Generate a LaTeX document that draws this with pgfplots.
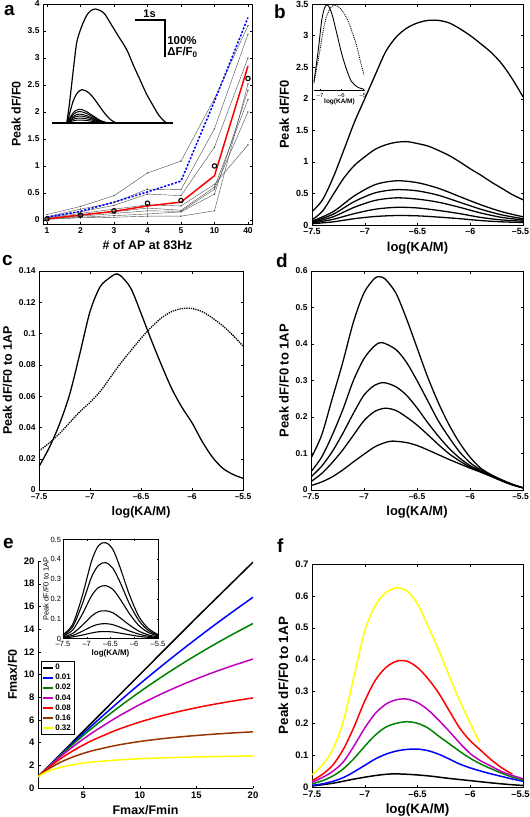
\documentclass[border=0pt]{standalone}
\usepackage{fontspec}
\setmainfont{Liberation Sans}
\usepackage{pgfplots}
\pgfplotsset{compat=1.18}
\newcommand{\fs}[1]{\fontsize{#1}{#1}\selectfont}
\definecolor{mblue}{rgb}{0,0,1}
\definecolor{mgreen}{rgb}{0,0.5,0}
\definecolor{mmag}{rgb}{0.75,0,0.75}
\definecolor{mred}{rgb}{1,0,0}
\definecolor{mbrown}{rgb}{0.6,0.2,0}
\definecolor{myellow}{rgb}{1,1,0}
\pgfplotsset{
  myax/.style={
    scale only axis, anchor=south west,
    tick align=inside, major tick length=2.5bp,
    every tick/.style={black, line width=0.4pt},
    axis line style={line width=0.5pt},
    /pgf/number format/assume math mode=true,
    /pgf/number format/fixed,
    scaled ticks=false,
    tick label style={font=\bfseries\fs{8.5}},
    label style={font=\bfseries\fs{12.5}},
  },
  crv/.style={black, line width=1.3pt, smooth, no marks},
  gl/.style={black!70, line width=0.4pt, mark=*, mark size=0.45pt},
  logx/.style={xmin=-7.5, xmax=-5.5, xtick={-7.5,-7,-6.5,-6,-5.5},
     xticklabels={--7.5,--7,--6.5,--6,--5.5}, xlabel={log(KA/M)}},
  logxr/.style={xmin=-7.5, xmax=-5.5, xtick={-7.5,-7,-6.5,-6,-5.5},
     xticklabels={--7.5,--7,--6.5,--6,\hspace{-5bp}--5.5}, xlabel={log(KA/M)}},
}
\begin{document}
\begin{tikzpicture}
\useasboundingbox (0,-817bp) rectangle (530bp,0);
% ---------------- panel a
\begin{axis}[myax, at={(43bp,-224bp)}, width=209bp, height=220bp,
  xmin=0.88, xmax=7.12, ymin=-0.075, ymax=4,
  xtick={1,2,3,4,5,6,7}, xticklabels={1,2,3,4,5,10,40},
  ytick={0,0.5,1,1.5,2,2.5,3,3.5,4},
  xlabel={\# of AP at 83Hz}, ylabel={Peak dF/F0}]
\addplot[gl] coordinates {(1,0.10) (2,0.25) (3,0.45) (4,0.87) (5,1.09) (6,2.25) (7,3.60)};
\addplot[gl] coordinates {(1,0.06) (2,0.20) (3,0.32) (4,0.57) (5,0.56) (6,1.69) (7,3.44)};
\addplot[gl] coordinates {(1,0.05) (2,0.15) (3,0.27) (4,0.48) (5,0.45) (6,1.35) (7,3.00)};
\addplot[gl] coordinates {(1,0.04) (2,0.12) (3,0.20) (4,0.28) (5,0.26) (6,0.66) (7,1.39)};
\addplot[gl] coordinates {(1,0.03) (2,0.10) (3,0.15) (4,0.22) (5,0.18) (6,0.61) (7,2.23)};
\addplot[gl] coordinates {(1,0.02) (2,0.07) (3,0.12) (4,0.17) (5,0.16) (6,0.57) (7,2.00)};
\addplot[gl] coordinates {(1,0.02) (2,0.05) (3,0.08) (4,0.11) (5,0.15) (6,0.48) (7,2.40)};
\addplot[gl] coordinates {(1,0.01) (2,0.04) (3,0.05) (4,0.07) (5,0.07) (6,0.17) (7,2.52)};
\addplot[mblue, line width=1.5pt, dash pattern=on 2.2pt off 1.6pt] coordinates {(1,0.05) (2,0.16) (3,0.33) (4,0.52) (5,0.72) (6,2.2) (7,3.75)};
\addplot[mred, line width=1.5pt] coordinates {(1,0.02) (2,0.09) (3,0.16) (4,0.26) (5,0.33) (6,0.82) (7,2.85)};
\addplot[black, only marks, mark=o, mark size=2.2pt, line width=1.1pt] coordinates {(1,0.02) (2,0.09) (3,0.17) (4,0.31) (5,0.36) (6,1.0) (7,2.62)};
\end{axis}
% inset a (traces)
\begin{axis}[scale only axis, anchor=south west, at={(52bp,-123bp)}, width=121bp, height=114bp,
  xmin=0, xmax=4.03, ymin=0, ymax=3.08, hide axis, clip=false]
\addplot[black, line width=1.2pt] coordinates {(0,0) (4.03,0)};
\addplot[crv, line width=1.2pt] coordinates {(0.49,0) (0.57,0.45) (0.66,1.08) (0.74,1.65) (0.82,2.16) (0.93,2.48) (1.04,2.71) (1.15,2.90) (1.27,3.02) (1.43,3.08) (1.6,3.04) (1.75,2.95) (1.93,2.72) (2.2,2.36) (2.49,1.98) (2.7,1.58) (2.93,1.17) (3.15,0.78) (3.38,0.45) (3.55,0.22) (3.71,0.07) (3.82,0)};
\addplot[crv, line width=1.2pt] coordinates {(0.5,0) (0.6,0.3) (0.7,0.58) (0.8,0.76) (0.9,0.86) (0.99,0.9) (1.1,0.88) (1.25,0.80) (1.4,0.66) (1.55,0.49) (1.7,0.32) (1.85,0.17) (2.0,0.06) (2.15,0)};
\addplot[crv, line width=1.0pt] coordinates {(0.5,0) (0.6,0.15) (0.7,0.27) (0.8,0.34) (0.9,0.37) (1.0,0.36) (1.15,0.31) (1.3,0.23) (1.45,0.15) (1.6,0.074) (1.75,0.026) (1.9,0)};
\addplot[crv, line width=1.0pt] coordinates {(0.5,0) (0.6,0.124) (0.7,0.223) (0.8,0.285) (0.9,0.31) (1.0,0.30) (1.15,0.26) (1.3,0.195) (1.45,0.124) (1.6,0.062) (1.75,0.022) (1.9,0)};
\addplot[crv, line width=1.0pt] coordinates {(0.5,0) (0.6,0.096) (0.7,0.173) (0.8,0.221) (0.9,0.24) (1.0,0.233) (1.15,0.202) (1.3,0.151) (1.45,0.096) (1.6,0.048) (1.75,0.017) (1.9,0)};
\addplot[crv, line width=1.0pt] coordinates {(0.5,0) (0.6,0.076) (0.7,0.137) (0.8,0.175) (0.9,0.19) (1.0,0.184) (1.15,0.16) (1.3,0.12) (1.45,0.076) (1.6,0.038) (1.75,0.013) (1.9,0)};
\addplot[crv, line width=1.0pt] coordinates {(0.5,0) (0.6,0.054) (0.7,0.097) (0.8,0.124) (0.9,0.135) (1.0,0.131) (1.15,0.113) (1.3,0.085) (1.45,0.054) (1.6,0.027) (1.75,0.009) (1.9,0)};
\addplot[crv, line width=1.0pt] coordinates {(0.5,0) (0.6,0.032) (0.7,0.058) (0.8,0.074) (0.9,0.08) (1.0,0.078) (1.15,0.067) (1.3,0.05) (1.45,0.032) (1.6,0.016) (1.75,0.006) (1.9,0)};
\draw[line width=1.8pt] (axis cs:2.77,2.78) -- (axis cs:3.77,2.78) -- (axis cs:3.77,1.78);
\node[font=\bfseries\fs{11}, anchor=base] at (axis cs:3.25,2.86) {1s};
\node[font=\bfseries\fs{11.5}, anchor=west, inner sep=1pt] at (axis cs:3.8,2.22) {100\%};
\node[font=\bfseries\fs{11.5}, anchor=west, inner sep=1pt] at (axis cs:3.8,1.9) {ΔF/F\textsubscript{0}};
\end{axis}
% ---------------- panel b
\begin{axis}[myax, logxr, at={(312bp,-225bp)}, width=211bp, height=221bp,
  ymin=0, ymax=3.5, ytick={0,0.5,1,1.5,2,2.5,3,3.5}, ylabel={Peak dF/F0},
  tick label style={font=\bfseries\fs{9}}, label style={font=\bfseries\fs{13}}]
\addplot[crv] coordinates {(-7.5,0.21) (-7.4,0.40) (-7.3,0.75) (-7.2,1.18) (-7.1,1.62) (-7.0,2.00) (-6.9,2.38) (-6.8,2.75) (-6.7,2.98) (-6.6,3.12) (-6.5,3.20) (-6.4,3.24) (-6.3,3.24) (-6.2,3.20) (-6.1,3.11) (-6.0,3.00) (-5.9,2.87) (-5.8,2.73) (-5.7,2.55) (-5.6,2.31) (-5.5,2.03)};
\addplot[crv] coordinates {(-7.5,0.08) (-7.4,0.22) (-7.3,0.48) (-7.2,0.74) (-7.1,0.94) (-7.0,1.08) (-6.9,1.20) (-6.8,1.27) (-6.7,1.31) (-6.6,1.32) (-6.5,1.29) (-6.4,1.25) (-6.3,1.18) (-6.2,1.10) (-6.1,1.00) (-6.0,0.89) (-5.9,0.79) (-5.8,0.68) (-5.7,0.58) (-5.6,0.48) (-5.5,0.40)};
\addplot[crv] coordinates {(-7.5,0.06) (-7.3,0.21) (-7.1,0.46) (-6.9,0.64) (-6.7,0.70) (-6.5,0.67) (-6.3,0.58) (-6.1,0.45) (-5.9,0.32) (-5.7,0.21) (-5.5,0.13)};
\addplot[crv] coordinates {(-7.5,0.05) (-7.3,0.17) (-7.1,0.37) (-6.9,0.51) (-6.7,0.56) (-6.5,0.54) (-6.3,0.47) (-6.1,0.36) (-5.9,0.25) (-5.7,0.16) (-5.5,0.10)};
\addplot[crv] coordinates {(-7.5,0.04) (-7.3,0.13) (-7.1,0.28) (-6.9,0.39) (-6.7,0.43) (-6.5,0.41) (-6.3,0.36) (-6.1,0.28) (-5.9,0.19) (-5.7,0.12) (-5.5,0.08)};
\addplot[crv] coordinates {(-7.5,0.03) (-7.3,0.09) (-7.1,0.18) (-6.9,0.25) (-6.7,0.28) (-6.5,0.27) (-6.3,0.23) (-6.1,0.18) (-5.9,0.12) (-5.7,0.08) (-5.5,0.06)};
\addplot[crv] coordinates {(-7.5,0.02) (-7.3,0.05) (-7.1,0.10) (-6.9,0.135) (-6.7,0.15) (-6.5,0.145) (-6.3,0.125) (-6.1,0.10) (-5.9,0.07) (-5.7,0.05) (-5.5,0.04)};
\end{axis}
% inset b
\begin{axis}[scale only axis, anchor=south west, at={(314bp,-90bp)}, width=51bp, height=85bp,
  xmin=-7.28, xmax=-4.9, ymin=0, ymax=1.0, axis x line=bottom, axis y line=none,
  tick align=inside, major tick length=1.5bp, every tick/.style={black, line width=0.3pt},
  axis line style={line width=0.6pt, -},
  xtick={-7,-6,-5}, xticklabels={--7,--6,--5},
  tick label style={font=\fs{6}}, xlabel={log(KA/M)},
  xlabel style={font=\bfseries\fs{6.5}, inner sep=0pt, yshift=2pt}, clip=false]
\addplot[black, line width=0.9pt, smooth] coordinates {(-7.28,0.10) (-7.08,0.47) (-6.92,0.82) (-6.78,0.97) (-6.64,1.0) (-6.45,0.90) (-6.22,0.67) (-5.99,0.43) (-5.76,0.24) (-5.53,0.10) (-5.22,0.03) (-4.95,0.01)};
\addplot[black, line width=0.9pt, densely dotted, smooth] coordinates {(-7.28,0.08) (-7.15,0.27) (-7.0,0.47) (-6.85,0.70) (-6.7,0.86) (-6.5,0.97) (-6.3,1.0) (-6.1,0.97) (-5.9,0.91) (-5.7,0.82) (-5.5,0.68) (-5.3,0.53) (-5.1,0.32) (-4.95,0.18)};
\end{axis}
% ---------------- panel c
\begin{axis}[myax, logx, at={(39bp,-490bp)}, width=204bp, height=219bp,
  ymin=0, ymax=0.14, ytick={0,0.02,0.04,0.06,0.08,0.1,0.12,0.14}, ylabel={Peak dF/F0 to 1AP}]
\addplot[crv] coordinates {(-7.5,0.015) (-7.4,0.027) (-7.3,0.042) (-7.2,0.061) (-7.1,0.087) (-7.0,0.114) (-6.9,0.130) (-6.8,0.136) (-6.75,0.138) (-6.7,0.137) (-6.6,0.129) (-6.5,0.113) (-6.4,0.096) (-6.3,0.080) (-6.2,0.065) (-6.1,0.053) (-6.0,0.043) (-5.9,0.031) (-5.8,0.021) (-5.7,0.014) (-5.6,0.010) (-5.5,0.0075)};
\addplot[black, line width=1.3pt, densely dotted, smooth] coordinates {(-7.5,0.025) (-7.4,0.030) (-7.3,0.036) (-7.2,0.043) (-7.1,0.050) (-7.0,0.056) (-6.9,0.063) (-6.8,0.072) (-6.7,0.081) (-6.6,0.089) (-6.5,0.097) (-6.4,0.104) (-6.3,0.110) (-6.2,0.114) (-6.1,0.116) (-6.0,0.116) (-5.9,0.114) (-5.8,0.110) (-5.7,0.105) (-5.6,0.099) (-5.5,0.092)};
\end{axis}
% ---------------- panel d
\begin{axis}[myax, logxr, at={(311bp,-490bp)}, width=212bp, height=219bp,
  ymin=0, ymax=0.6, ytick={0,0.1,0.2,0.3,0.4,0.5,0.6}, ylabel={Peak dF/F0 to 1AP}, label style={font=\bfseries\fs{13}}]
\addplot[crv] coordinates {(-7.5,0.087) (-7.4,0.15) (-7.3,0.25) (-7.2,0.35) (-7.1,0.46) (-7.0,0.54) (-6.9,0.58) (-6.85,0.584) (-6.8,0.578) (-6.7,0.54) (-6.6,0.47) (-6.5,0.39) (-6.4,0.31) (-6.3,0.24) (-6.2,0.18) (-6.1,0.13) (-6.0,0.09) (-5.9,0.06) (-5.8,0.042) (-5.7,0.028) (-5.6,0.016) (-5.5,0.006)};
\addplot[crv] coordinates {(-7.5,0.05) (-7.4,0.09) (-7.3,0.15) (-7.2,0.22) (-7.1,0.30) (-7.0,0.36) (-6.9,0.395) (-6.83,0.404) (-6.7,0.385) (-6.6,0.35) (-6.5,0.30) (-6.4,0.245) (-6.3,0.19) (-6.2,0.145) (-6.1,0.105) (-6.0,0.075) (-5.9,0.055) (-5.8,0.04) (-5.7,0.027) (-5.6,0.015) (-5.5,0.006)};
\addplot[crv] coordinates {(-7.5,0.036) (-7.4,0.065) (-7.3,0.105) (-7.2,0.155) (-7.1,0.21) (-7.0,0.26) (-6.9,0.287) (-6.81,0.294) (-6.7,0.283) (-6.6,0.26) (-6.5,0.225) (-6.4,0.185) (-6.3,0.148) (-6.2,0.115) (-6.1,0.088) (-6.0,0.067) (-5.9,0.052) (-5.8,0.039) (-5.7,0.026) (-5.6,0.015) (-5.5,0.006)};
\addplot[crv] coordinates {(-7.5,0.023) (-7.4,0.045) (-7.3,0.075) (-7.2,0.11) (-7.1,0.15) (-7.0,0.19) (-6.9,0.215) (-6.8,0.224) (-6.7,0.218) (-6.6,0.20) (-6.5,0.178) (-6.4,0.152) (-6.3,0.125) (-6.2,0.10) (-6.1,0.08) (-6.0,0.063) (-5.9,0.05) (-5.8,0.038) (-5.7,0.025) (-5.6,0.014) (-5.5,0.006)};
\addplot[crv] coordinates {(-7.5,0.012) (-7.4,0.022) (-7.3,0.036) (-7.2,0.055) (-7.1,0.077) (-7.0,0.098) (-6.9,0.118) (-6.8,0.13) (-6.73,0.134) (-6.6,0.13) (-6.5,0.122) (-6.4,0.11) (-6.3,0.097) (-6.2,0.084) (-6.1,0.072) (-6.0,0.06) (-5.9,0.049) (-5.8,0.037) (-5.7,0.025) (-5.6,0.014) (-5.5,0.006)};
\end{axis}
% ---------------- panel e
\begin{axis}[myax, at={(38bp,-788bp)}, width=215bp, height=227bp,
  xmin=1, xmax=20, ymin=0, ymax=20, axis x line*=bottom, axis y line*=left,
  xtick={5,10,15,20}, ytick={0,2,4,6,8,10,12,14,16,18,20},
  xlabel={Fmax/Fmin}, ylabel={Fmax/F0},
  tick label style={font=\bfseries\fs{9.5}},
  legend style={at={(0.014,0.559)}, anchor=north west, draw=black, line width=0.4pt,
    font=\bfseries\fs{8}, inner sep=1pt, row sep=-1pt},
  legend cell align=left,
  legend image code/.code={\draw[#1, line width=1.5pt] (0cm,0cm) -- (0.34cm,0cm);}]
\addplot[black, line width=1.5pt] coordinates {(1,1) (5,5) (10,10) (15,15) (20,19.9)};
\addplot[mblue, line width=1.5pt, smooth] coordinates {(1,1) (2,1.980) (3,2.941) (4,3.883) (5,4.808) (6,5.714) (8,7.477) (10,9.174) (12,10.811) (14,12.389) (16,13.913) (18,15.385) (20,16.807)};
\addplot[mgreen, line width=1.5pt, smooth] coordinates {(1,1) (2,1.961) (3,2.885) (4,3.774) (5,4.630) (6,5.455) (8,7.018) (10,8.475) (12,9.836) (14,11.111) (16,12.308) (18,13.433) (20,14.493)};
\addplot[mmag, line width=1.5pt, smooth] coordinates {(1,1) (2,1.923) (3,2.778) (4,3.571) (5,4.310) (6,5.0) (8,6.25) (10,7.353) (12,8.333) (14,9.211) (16,10.0) (18,10.714) (20,11.364)};
\addplot[mred, line width=1.5pt, smooth] coordinates {(1,1) (1.5,1.442) (2,1.852) (3,2.586) (4,3.226) (5,3.788) (6,4.286) (8,5.128) (10,5.814) (12,6.383) (14,6.863) (16,7.273) (18,7.627) (20,7.937)};
\addplot[mbrown, line width=1.5pt, smooth] coordinates {(1,1) (1.5,1.389) (2,1.724) (3,2.273) (4,2.703) (5,3.049) (6,3.333) (8,3.774) (10,4.098) (12,4.348) (14,4.545) (16,4.706) (18,4.839) (20,4.950)};
\addplot[myellow, line width=1.5pt, smooth] coordinates {(1,1) (1.5,1.293) (2,1.515) (3,1.829) (4,2.041) (5,2.193) (6,2.308) (8,2.469) (10,2.577) (12,2.655) (14,2.713) (16,2.759) (18,2.795) (20,2.825)};
\legend{0,0.01,0.02,0.04,0.08,0.16,0.32}
\end{axis}
% inset e
\begin{axis}[myax, logx, at={(63bp,-638.5bp)}, width=95bp, height=99bp,
  ymin=0, ymax=0.5, ytick={0,0.1,0.2,0.3,0.4,0.5},
  axis background/.style={fill=white},
  major tick length=1.5bp,
  tick label style={font=\fs{7.5}},
  xlabel style={font=\bfseries\fs{8}, yshift=3pt},
  ylabel={Peak dF/F0 to 1AP}, ylabel style={font=\fs{7.5}, yshift=-5pt},
  xticklabel style={yshift=1pt}, yticklabel style={xshift=1.5pt}]
\addplot[crv, line width=1.1pt] coordinates {(-7.5,0.02) (-7.3,0.07) (-7.1,0.21) (-6.9,0.39) (-6.75,0.47) (-6.6,0.484) (-6.45,0.45) (-6.3,0.36) (-6.1,0.22) (-5.9,0.11) (-5.7,0.05) (-5.5,0.02)};
\addplot[crv, line width=1.1pt] coordinates {(-7.5,0.017) (-7.3,0.058) (-7.1,0.17) (-6.9,0.31) (-6.75,0.37) (-6.6,0.383) (-6.45,0.355) (-6.3,0.285) (-6.1,0.175) (-5.9,0.09) (-5.7,0.04) (-5.5,0.017)};
\addplot[crv, line width=1.1pt] coordinates {(-7.5,0.013) (-7.3,0.042) (-7.1,0.12) (-6.9,0.215) (-6.75,0.258) (-6.6,0.267) (-6.45,0.248) (-6.3,0.2) (-6.1,0.125) (-5.9,0.065) (-5.7,0.03) (-5.5,0.013)};
\addplot[crv, line width=1.1pt] coordinates {(-7.5,0.008) (-7.3,0.025) (-7.1,0.065) (-6.9,0.113) (-6.75,0.136) (-6.6,0.14) (-6.45,0.13) (-6.3,0.105) (-6.1,0.068) (-5.9,0.037) (-5.7,0.018) (-5.5,0.008)};
\addplot[crv, line width=1.1pt] coordinates {(-7.5,0.005) (-7.3,0.015) (-7.1,0.036) (-6.9,0.06) (-6.75,0.072) (-6.6,0.075) (-6.45,0.07) (-6.3,0.057) (-6.1,0.038) (-5.9,0.022) (-5.7,0.011) (-5.5,0.005)};
\addplot[crv, line width=1.1pt] coordinates {(-7.5,0.003) (-7.3,0.008) (-7.1,0.017) (-6.9,0.028) (-6.75,0.034) (-6.6,0.035) (-6.45,0.033) (-6.3,0.027) (-6.1,0.019) (-5.9,0.011) (-5.7,0.006) (-5.5,0.003)};
\end{axis}
% ---------------- panel f
\begin{axis}[myax, logxr, at={(312bp,-787bp)}, width=211bp, height=223bp,
  ymin=0, ymax=0.7, ytick={0,0.1,0.2,0.3,0.4,0.5,0.6,0.7}, ylabel={Peak dF/F0 to 1AP},
  tick label style={font=\bfseries\fs{9.5}}, label style={font=\bfseries\fs{13.5}}]
\addplot[black, line width=1.5pt, smooth] coordinates {(-7.5,0.003) (-7.3,0.012) (-7.1,0.025) (-6.9,0.036) (-6.75,0.041) (-6.6,0.04) (-6.4,0.035) (-6.2,0.027) (-6.0,0.02) (-5.8,0.013) (-5.6,0.007) (-5.5,0.005)};
\addplot[mblue, line width=1.5pt, smooth] coordinates {(-7.5,0.005) (-7.4,0.01) (-7.3,0.018) (-7.2,0.03) (-7.1,0.048) (-7.0,0.068) (-6.9,0.088) (-6.8,0.103) (-6.7,0.113) (-6.6,0.118) (-6.5,0.119) (-6.4,0.114) (-6.3,0.103) (-6.2,0.088) (-6.1,0.072) (-6.0,0.06) (-5.9,0.05) (-5.8,0.041) (-5.7,0.033) (-5.6,0.025) (-5.5,0.018)};
\addplot[mgreen, line width=1.5pt, smooth] coordinates {(-7.5,0.01) (-7.4,0.02) (-7.3,0.035) (-7.2,0.058) (-7.1,0.09) (-7.0,0.128) (-6.9,0.163) (-6.8,0.188) (-6.7,0.2) (-6.6,0.205) (-6.5,0.2) (-6.4,0.185) (-6.3,0.16) (-6.2,0.136) (-6.1,0.112) (-6.0,0.09) (-5.9,0.072) (-5.8,0.057) (-5.7,0.043) (-5.6,0.031) (-5.5,0.022)};
\addplot[mmag, line width=1.5pt, smooth] coordinates {(-7.5,0.015) (-7.4,0.03) (-7.3,0.05) (-7.2,0.08) (-7.1,0.13) (-7.0,0.185) (-6.9,0.231) (-6.8,0.26) (-6.7,0.274) (-6.6,0.276) (-6.5,0.265) (-6.4,0.242) (-6.3,0.21) (-6.2,0.175) (-6.1,0.138) (-6.0,0.105) (-5.9,0.082) (-5.8,0.065) (-5.7,0.048) (-5.6,0.036) (-5.5,0.026)};
\addplot[mred, line width=1.5pt, smooth] coordinates {(-7.5,0.02) (-7.4,0.04) (-7.3,0.07) (-7.2,0.12) (-7.1,0.19) (-7.0,0.27) (-6.9,0.335) (-6.8,0.375) (-6.7,0.395) (-6.6,0.395) (-6.5,0.375) (-6.4,0.34) (-6.3,0.295) (-6.2,0.24) (-6.1,0.185) (-6.0,0.145) (-5.9,0.115) (-5.8,0.085) (-5.7,0.06) (-5.6,0.04)};
\addplot[myellow, line width=1.5pt, smooth] coordinates {(-7.5,0.038) (-7.4,0.07) (-7.3,0.12) (-7.2,0.21) (-7.1,0.35) (-7.0,0.49) (-6.9,0.57) (-6.8,0.61) (-6.7,0.625) (-6.6,0.615) (-6.5,0.575) (-6.4,0.505) (-6.3,0.43) (-6.2,0.35) (-6.1,0.27) (-6.0,0.2) (-5.91,0.139)};
\end{axis}
% panel letters
\begin{scope}[every node/.style={font=\bfseries\fs{19}, anchor=base west, inner sep=0pt}]
\node at (4bp,-15bp) {a};
\node at (274bp,-18bp) {b};
\node at (2bp,-265bp) {c};
\node at (276bp,-267bp) {d};
\node at (3bp,-548bp) {e};
\node at (277bp,-552bp) {f};
\end{scope}
\end{tikzpicture}
\end{document}
